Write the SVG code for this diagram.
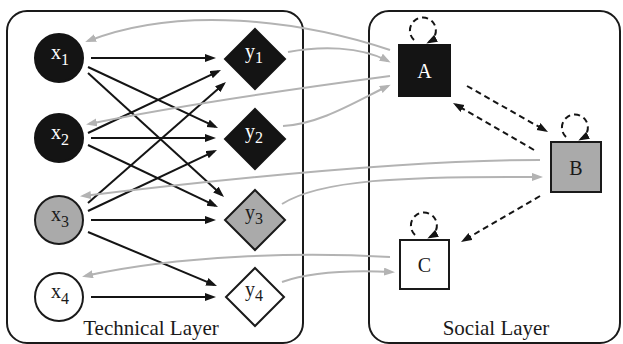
<svg xmlns="http://www.w3.org/2000/svg" width="623" height="344" viewBox="0 0 623 344">
<style>
  .layer { fill: #ffffff; stroke: #1a1a1a; stroke-width: 2; }
  .dark { fill: #141414; stroke: #141414; stroke-width: 2; }
  .mid { fill: #aaaaaa; stroke: #1a1a1a; stroke-width: 2; }
  .light { fill: #ffffff; stroke: #1a1a1a; stroke-width: 2; }
  .lbl { font-family: "Liberation Serif", "Times New Roman", serif; font-size: 20px; text-anchor: middle; }
  .lblw { fill: #ffffff; }
  .lblb { fill: #1a1a1a; }
  .title { font-family: "Liberation Serif", "Times New Roman", serif; font-size: 21px; fill: #1a1a1a; text-anchor: middle; }
  .tech { fill: none; stroke: #141414; stroke-width: 2; marker-end: url(#ah-black); }
  .soc { fill: none; stroke: #141414; stroke-width: 2; stroke-dasharray: 6 4; marker-end: url(#ah-black); }
  .map { fill: none; stroke: #b3b3b3; stroke-width: 2; marker-end: url(#ah-gray); }
  .plain { fill: none; stroke: #b3b3b3; stroke-width: 2; }
</style>
<defs>
  <marker id="ah-black" markerUnits="userSpaceOnUse" markerWidth="12" markerHeight="10" refX="8" refY="4" orient="auto">
    <path d="M0,0 L11,4 L0,8 z" fill="#141414"/>
  </marker>
  <marker id="ah-gray" markerUnits="userSpaceOnUse" markerWidth="12" markerHeight="10" refX="8" refY="4" orient="auto">
    <path d="M0,0 L11,4 L0,8 z" fill="#b3b3b3"/>
  </marker>
</defs>

<g id="technical-layer">
  <rect class="layer" x="7" y="11" width="296" height="332" rx="20" ry="20"/>
  <text class="title" x="151" y="335">Technical Layer</text>
</g>
<g id="social-layer">
  <rect class="layer" x="369" y="11" width="251" height="332" rx="20" ry="20"/>
  <text class="title" x="496" y="335">Social Layer</text>
</g>

<g id="connectors">
  <!-- technical dependencies -->
  <path class="tech" d="M91,58 L213,58"/>
  <path class="tech" d="M88,67 L215.3,126.7"/>
  <path class="tech" d="M88,73 L221.8,195"/>
  <path class="tech" d="M88,133 L218.3,71.3"/>
  <path class="tech" d="M91,138 L213,138"/>
  <path class="tech" d="M88,145 L215.3,205.7"/>
  <path class="tech" d="M88,203 L223.7,84"/>
  <path class="tech" d="M88,211 L214.3,151.3"/>
  <path class="tech" d="M91,220 L213,220"/>
  <path class="tech" d="M88,232 L214.2,284.8"/>
  <path class="tech" d="M91,297 L213,297"/>
  <!-- social dependencies -->
  <path class="soc" d="M467,86 L545.4,130.5"/>
  <path class="soc" d="M534,150 L455.6,104.5"/>
  <path class="soc" d="M540,196 L463.6,240.5"/>
  <path class="soc" d="M414,40 A13,13 0 1,1 429,42"/>
  <path class="soc" d="M566,137 A13,13 0 1,1 581,139"/>
  <path class="soc" d="M415,235 A13,13 0 1,1 430,237"/>
  <!-- cross-layer mappings -->
  <path class="map" d="M390,50 C300,20 180,5 88,41"/>
  <path class="map" d="M288,52 C320,46 360,46 388,61"/>
  <path class="map" d="M390,76 C300,88 180,105 89,124"/>
  <path class="map" d="M283,126 C320,124 355,102 388,86"/>
  <path class="map" d="M540,160 C450,160 300,170 83,196"/>
  <path class="map" d="M282,204 C320,180 400,176 540,177"/>
  <path class="map" d="M390,257 C300,252 180,255 85,276"/>
  <path class="map" d="M282,282 C310,272 350,270 392,272"/>
</g>

<g id="x1">
  <circle class="dark" cx="59" cy="58" r="24"/>
  <text class="lbl lblw" x="60" y="59">x<tspan font-size="16" dy="6">1</tspan></text>
</g>
<g id="x2">
  <circle class="dark" cx="59" cy="138" r="24"/>
  <text class="lbl lblw" x="60" y="139">x<tspan font-size="16" dy="6">2</tspan></text>
</g>
<g id="x3">
  <circle class="mid" cx="59" cy="220" r="24"/>
  <text class="lbl lblb" x="60" y="221">x<tspan font-size="16" dy="6">3</tspan></text>
</g>
<g id="x4">
  <circle class="light" cx="59" cy="297" r="24"/>
  <text class="lbl lblb" x="60" y="298">x<tspan font-size="16" dy="6">4</tspan></text>
</g>

<g id="y1">
  <polygon class="dark" points="255,29 285,59 255,89 225,59"/>
  <text class="lbl lblw" x="254" y="58">y<tspan font-size="16" dy="5">1</tspan></text>
</g>
<g id="y2">
  <polygon class="dark" points="255,109 285,139 255,169 225,139"/>
  <text class="lbl lblw" x="254" y="138">y<tspan font-size="16" dy="5">2</tspan></text>
</g>
<g id="y3">
  <polygon class="mid" points="255,190 285,220 255,250 225,220"/>
  <text class="lbl lblb" x="254" y="219">y<tspan font-size="16" dy="5">3</tspan></text>
</g>
<g id="y4">
  <polygon class="light" points="255,268 284,297 255,326 226,297"/>
  <text class="lbl lblb" x="254" y="296">y<tspan font-size="16" dy="5">4</tspan></text>
</g>

<g id="A">
  <rect class="dark" x="399" y="45" width="51" height="51"/>
  <text class="lbl lblw" x="424.5" y="78">A</text>
</g>
<g id="B">
  <rect class="mid" x="551" y="142" width="50" height="50"/>
  <text class="lbl lblb" x="576" y="175">B</text>
</g>
<g id="C">
  <rect class="light" x="400" y="240" width="49" height="49"/>
  <text class="lbl lblb" x="424.5" y="272">C</text>
</g>
</svg>
